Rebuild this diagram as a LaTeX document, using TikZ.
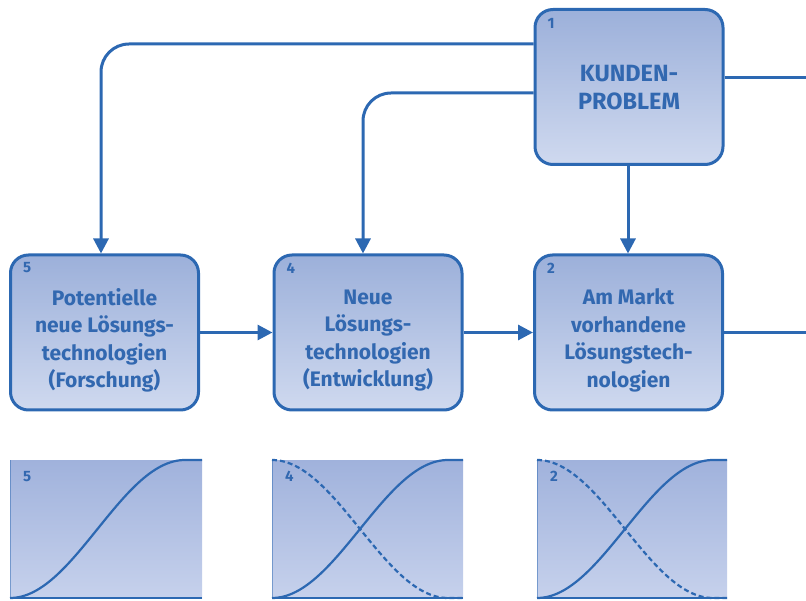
\documentclass[tikz,border=0pt]{standalone}
\usepackage{fontspec}
\setmainfont{Fira Sans}
\usetikzlibrary{arrows.meta,calc}
\definecolor{lineblue}{HTML}{2C68B2}
\definecolor{txtblue}{HTML}{3268B0}
\definecolor{filltop}{HTML}{9CB0DA}
\definecolor{fillbot}{HTML}{CFD9EF}
\definecolor{charttop}{HTML}{A0B2DC}
\definecolor{chartbot}{HTML}{C6D1EC}
\begin{document}
\begin{tikzpicture}[x=1pt,y=-1pt,
 box/.style={draw=lineblue, line width=3pt, rounded corners=18pt, top color=filltop, bottom color=fillbot, minimum width=188pt, minimum height=155pt, inner sep=0pt},
 boxtext/.style={text=txtblue, font=\bfseries\fontsize{21}{27.5}\selectfont, align=center, inner sep=0pt},
 num/.style={text=txtblue, font=\bfseries\fontsize{15}{15}\selectfont, anchor=north west, inner sep=0pt},
 conn/.style={draw=lineblue, line width=3pt},
 arr/.style={conn, -{Triangle[length=15pt,width=15pt]}},
 chart/.style={top color=charttop, bottom color=chartbot, draw=none},
 curve/.style={draw=lineblue, line width=2.2pt},
 dcurve/.style={curve, dash pattern=on 5pt off 3pt}
]
\useasboundingbox (0,0) rectangle (806,601);

% boxes
\node[box] (k)  at (629,87)    {};
\node[box] (p5) at (104.5,332.5) {};
\node[box] (p4) at (368,332.5) {};
\node[box] (p2) at (628.5,332.5) {};

\node[boxtext, font=\bfseries\fontsize{23.5}{28}\selectfont] (tk) at ($(k.center)+(0,1)$) {KUNDEN-\\PROBLEM};
\node[boxtext] (t5) at ($(p5.center)+(0,8)$) {Potentielle\\neue Lösungs-\\technologien\\(Forschung)};
\node[boxtext] (t4) at ($(p4.center)+(0,8)$) {Neue\\Lösungs-\\technologien\\(Entwicklung)};
\node[boxtext] (t2) at ($(p2.center)+(0,8)$) {Am Markt\\vorhandene\\Lösungstech-\\nologien};

\node[num] (nk) at ($(k.north west)+(14,10)$) {1};
\node[num] (n5) at ($(p5.north west)+(14,9)$) {5};
\node[num] (n4) at ($(p4.north west)+(14,9)$) {4};
\node[num] (n2) at ($(p2.north west)+(14,9)$) {2};

% free ends
\coordinate (e1) at (806,78);
\coordinate (e2) at (806,332.5);

% connectors
\draw[arr, rounded corners=28pt] (k.west |- 0,44) -| (p5.north -| 101,0);
\draw[arr, rounded corners=28pt] (k.west |- 0,93) -| (p4.north -| 363,0);
\draw[arr] (k.south -| 628,0) -- (p2.north -| 628,0);
\draw[conn] (k.east |- 0,78) -- (e1);
\draw[arr] (p5.east) -- (p4.west);
\draw[arr] (p4.east) -- (p2.west);
\draw[conn] (p2.east) -- (e2);

% chart 5
\path[chart] (10,460) rectangle (202,598);
\draw[lineblue, line width=1pt, opacity=0.5] (10,460) -- (10,598);
\draw[curve] plot[domain=0:180, samples=60, variable=\t] ({10+0.97222*\t}, {598-69*(1-cos(\t))}) -- (202,460);
\draw[lineblue, line width=2.5pt] (10,598) -- (202,598);
\node[num] (c5) at (23,471) {5};

% chart 4
\path[chart] (272,460) rectangle (463,598);
\draw[lineblue, line width=1pt, opacity=0.5] (272,460) -- (272,598);
\draw[curve] plot[domain=0:180, samples=60, variable=\t] ({272+0.97778*\t}, {598-69*(1-cos(\t))}) -- (463,460);
\draw[dcurve] plot[domain=0:180, samples=60, variable=\t] ({272+0.97778*\t}, {460+69*(1-cos(\t))}) -- (463,598);
\draw[lineblue, line width=2.5pt] (272,598) -- (463,598);
\node[num] (c4) at (285,471) {4};

% chart 2
\path[chart] (537,460) rectangle (727,598);
\draw[lineblue, line width=1pt, opacity=0.5] (537,460) -- (537,598);
\draw[curve] plot[domain=0:180, samples=60, variable=\t] ({537+0.97778*\t}, {598-69*(1-cos(\t))}) -- (727,460);
\draw[dcurve] plot[domain=0:180, samples=60, variable=\t] ({537+0.97778*\t}, {460+69*(1-cos(\t))}) -- (727,598);
\draw[lineblue, line width=2.5pt] (537,598) -- (727,598);
\node[num] (c2) at (550,471) {2};
\end{tikzpicture}
\end{document}
